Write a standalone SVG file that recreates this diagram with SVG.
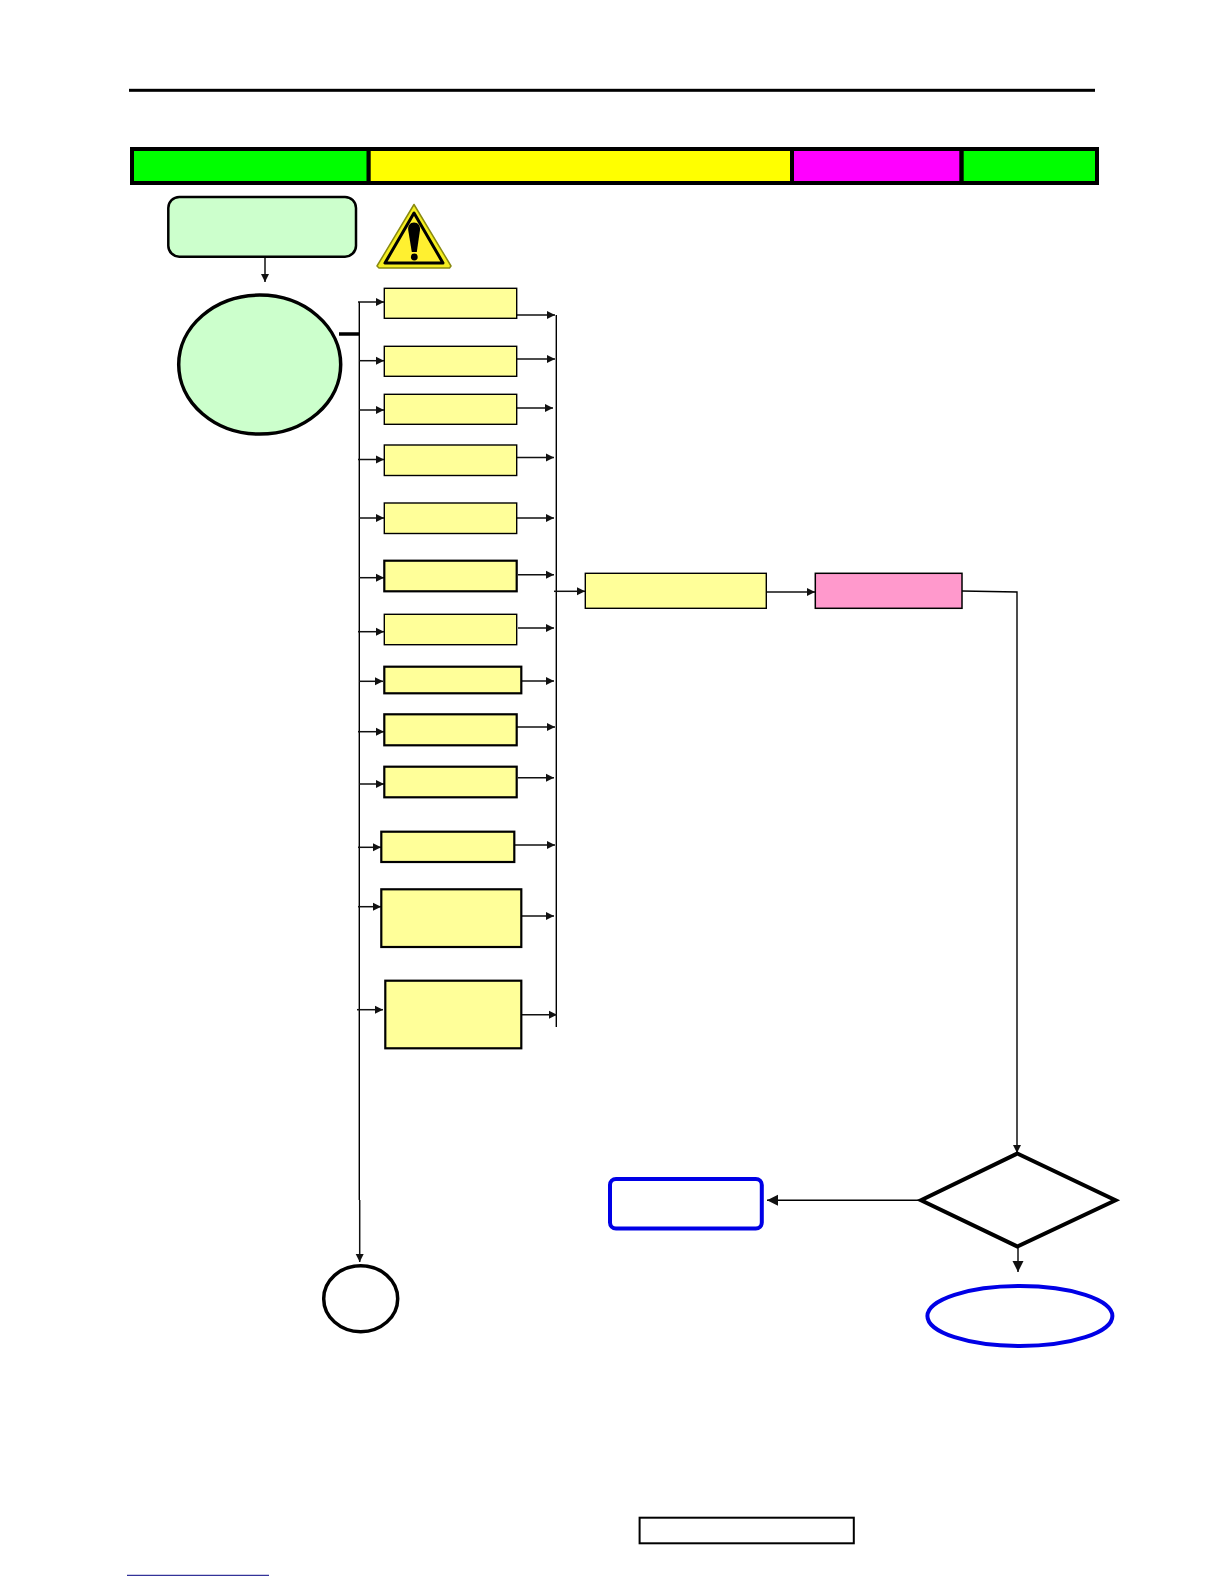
<svg xmlns="http://www.w3.org/2000/svg" width="1224" height="1584" viewBox="0 0 1224 1584">
<style>
.c{fill:none;stroke:#111;stroke-width:1.5}
.l{fill:none;stroke:#000;stroke-width:1.4}
.a{marker-end:url(#h)}
.A{marker-end:url(#H)}
.y{fill:#FFFF99;stroke:#000;stroke-width:1.4}
.t{fill:#FFFF99;stroke:#000;stroke-width:2.2}
.b{fill:none;stroke:#0000E6;stroke-width:4}
</style>
<defs>
<marker id="h" markerUnits="userSpaceOnUse" markerWidth="9" markerHeight="9" refX="8" refY="4.500" orient="auto"><path d="M0 .5L8 4.500L0 8.500Z" fill="#111"/></marker>
<marker id="H" markerUnits="userSpaceOnUse" markerWidth="12" markerHeight="12" refX="11" refY="6" orient="auto"><path d="M0 .5L11 6L0 11.500Z" fill="#111"/></marker>
</defs>
<rect width="1224" height="1584" fill="#fff"/>
<g id="header">
<rect x="129" y="88.800" width="966" height="3" fill="#000"/>
<rect x="130" y="147" width="969" height="38" fill="#000"/>
<rect x="134" y="151" width="232.500" height="30" fill="#00FF00"/>
<rect x="370.700" y="151" width="419.300" height="30" fill="#FFFF00"/>
<rect x="794" y="151" width="165.300" height="30" fill="#FF00FF"/>
<rect x="963.700" y="151" width="131.300" height="30" fill="#00FF00"/>
</g>
<g id="connectors">
<path class="c a" d="M265 257V282"/>
<path d="M339 334H359" stroke="#000" stroke-width="3.500" fill="none"/>
<path class="l" d="M359.300 302V1200"/>
<path class="l" d="M556.300 315V1027"/>
<path class="c a" d="M358 302H384"/>
<path class="c a" d="M359 360.700H384"/>
<path class="c a" d="M359 410H384"/>
<path class="c a" d="M358 459.500H384"/>
<path class="c a" d="M359 518H384"/>
<path class="c a" d="M359 577.700H384"/>
<path class="c a" d="M358 631.700H384"/>
<path class="c a" d="M359 681.300H383"/>
<path class="c a" d="M358 731.700H384"/>
<path class="c a" d="M359 784H384"/>
<path class="c a" d="M358 847.300H381"/>
<path class="c a" d="M358 906.700H381"/>
<path class="c a" d="M357 1009.700H383"/>
<path class="c a" d="M516.700 315H555"/>
<path class="c a" d="M516.700 359H555"/>
<path class="c a" d="M516.700 408H553"/>
<path class="c a" d="M516.700 457.500H554"/>
<path class="c a" d="M516.700 518H554"/>
<path class="c a" d="M518 574.700H554"/>
<path class="c a" d="M518 628H554"/>
<path class="c a" d="M521 681H554"/>
<path class="c a" d="M516.700 727H555"/>
<path class="c a" d="M518 777.700H554"/>
<path class="c a" d="M514 845H555"/>
<path class="c a" d="M521 916H554"/>
<path class="c a" d="M521 1014.700H557"/>
<path class="c a" d="M554 591.300H585"/>
<path class="c a" d="M766.300 592H815"/>
<path class="l a" d="M962 591L1017 592V1153"/>
<path class="l A" d="M920 1200.300H767"/>
<path class="l A" d="M1018 1247V1272"/>
<path class="c a" d="M359.700 1200V1262"/>
</g>
<g id="start"><rect x="168.300" y="197" width="187.700" height="59.700" rx="11" fill="#CCFFCC" stroke="#000" stroke-width="2.500"/></g>
<g id="warning">
<path d="M414 204.500L451 266L449.500 268H379L377 266Z" fill="#F5EE20" stroke="#8A8A10" stroke-width="1.500" stroke-linejoin="round"/>
<path d="M414 213L385 263H443Z" fill="#FFF030" stroke="#000" stroke-width="3" stroke-linejoin="round"/>
<path d="M414 222.500C418 222.500 420.500 226 420 230L416.800 252H411.800L408.200 230C407.700 226 410 222.500 414 222.500Z" fill="#000"/>
<circle cx="414.300" cy="257" r="3.400" fill="#000"/>
</g>
<g id="decision-circle"><ellipse cx="259.700" cy="364.600" rx="81" ry="69.500" fill="#CCFFCC" stroke="#000" stroke-width="3.500"/></g>
<g id="box1"><rect class="y" x="384.300" y="288.300" width="132.400" height="30"/></g>
<g id="box2"><rect class="y" x="384.300" y="346.300" width="132.400" height="30"/></g>
<g id="box3"><rect class="y" x="384.300" y="394.300" width="132.400" height="30"/></g>
<g id="box4"><rect class="y" x="384.300" y="445" width="132.400" height="30.500"/></g>
<g id="box5"><rect class="y" x="384.300" y="503" width="132.400" height="30.500"/></g>
<g id="box6"><rect class="t" x="384.300" y="560.700" width="132.400" height="30.600"/></g>
<g id="box7"><rect class="y" x="384.300" y="614.300" width="132.400" height="30.400"/></g>
<g id="box8"><rect class="t" x="384.300" y="666.700" width="137" height="26.600"/></g>
<g id="box9"><rect class="t" x="384.300" y="714.300" width="132.400" height="31"/></g>
<g id="box10"><rect class="t" x="384.300" y="766.700" width="132.400" height="30.600"/></g>
<g id="box11"><rect class="t" x="381.300" y="831.700" width="133" height="30.300"/></g>
<g id="box12"><rect class="t" x="381.300" y="889.300" width="140" height="57.700"/></g>
<g id="box13"><rect class="t" x="385.300" y="980.700" width="136" height="67.600"/></g>
<g id="merge-box"><rect class="y" x="585.300" y="573.300" width="181" height="35"/></g>
<g id="pink-box"><rect x="815.300" y="573.300" width="146.700" height="35" fill="#FF99CC" stroke="#000" stroke-width="1.500"/></g>
<g id="decision"><path d="M1017.300 1153.500L1115.500 1200.300L1017.300 1246.500L921 1200.300Z" fill="#fff" stroke="#000" stroke-width="4"/></g>
<g id="blue-box"><rect class="b" x="610" y="1179" width="151.800" height="49.500" rx="6"/></g>
<g id="blue-end"><ellipse class="b" cx="1019.900" cy="1316" rx="92.500" ry="30"/></g>
<g id="connector-circle"><ellipse cx="360.700" cy="1298.700" rx="37" ry="33" fill="#fff" stroke="#000" stroke-width="3.500"/></g>
<g id="footer-box"><rect x="639.600" y="1517.700" width="214.200" height="25.600" fill="#fff" stroke="#000" stroke-width="2"/></g>
<g id="footer-link"><path d="M127 1575.300H269" stroke="#000080" stroke-width="1" fill="none"/></g>
</svg>
